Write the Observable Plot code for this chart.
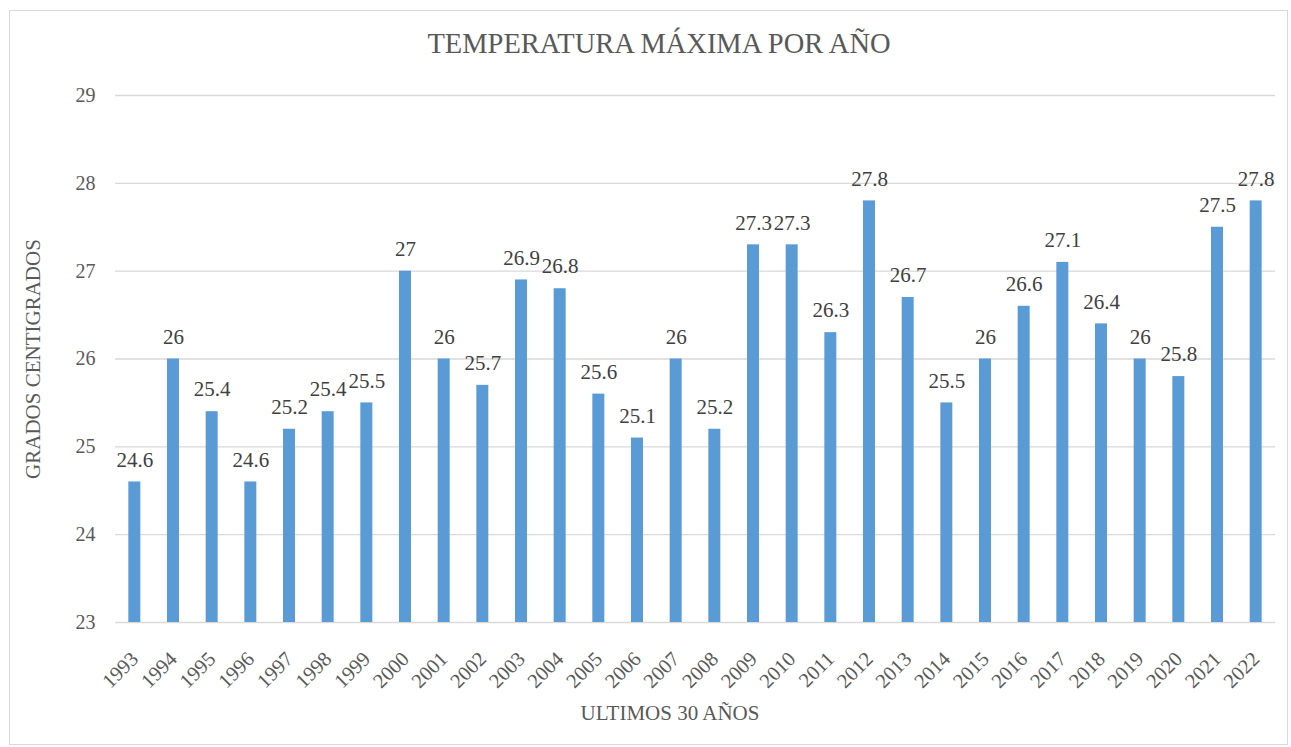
<!DOCTYPE html>
<html>
<head>
<meta charset="utf-8">
<script src="https://cdn.jsdelivr.net/npm/d3@7"></script>
<script src="https://cdn.jsdelivr.net/npm/@observablehq/plot@0.6"></script>
<style>
  html, body { margin: 0; padding: 0; background: #fff; }
  #wrap { position: relative; width: 1291px; height: 747px; font-family: "Liberation Serif", serif; }
  #border { position: absolute; left: 9px; top: 10px; width: 1279px; height: 735px; border: 1px solid #D9D9D9; box-sizing: border-box; pointer-events: none; }
  #title { position: absolute; left: 0; width: 1318px; top: 30px; text-align: center; font-size: 28.5px; line-height: 28px; color: #595959; white-space: nowrap; }
  #xtitle { position: absolute; left: 0; width: 1340px; top: 703px; text-align: center; font-size: 21px; line-height: 21px; color: #595959; white-space: nowrap; }
  #ytitle { position: absolute; left: 33px; top: 359px; transform: translate(-50%, -50%) rotate(-90deg); white-space: nowrap; font-size: 21px; line-height: 21px; color: #595959; }
  #chart { position: absolute; left: 0; top: 0; }
</style>
</head>
<body>
<div id="wrap">
  <div id="chart"></div>
  <div id="border"></div>
  <div id="title">TEMPERATURA MÁXIMA POR AÑO</div>
  <div id="xtitle">ULTIMOS 30 AÑOS</div>
  <div id="ytitle">GRADOS CENTIGRADOS</div>
</div>
<script>
const years = ["1993","1994","1995","1996","1997","1998","1999","2000","2001","2002","2003","2004","2005","2006","2007","2008","2009","2010","2011","2012","2013","2014","2015","2016","2017","2018","2019","2020","2021","2022"];
const values = [24.6,26,25.4,24.6,25.2,25.4,25.5,27,26,25.7,26.9,26.8,25.6,25.1,26,25.2,27.3,27.3,26.3,27.8,26.7,25.5,26,26.6,27.1,26.4,26,25.8,27.5,27.8];
const yTicks = [23,24,25,26,27,28,29];

const data = years.map((y, i) => ({year: y, value: values[i]}));

const chart = Plot.plot({
  width: 1291,
  height: 747,
  marginLeft: 115,
  marginRight: 16,
  marginTop: 95,
  marginBottom: 125,
  style: "font-family: 'Liberation Serif', serif; background: transparent; overflow: visible;",
  x: { domain: years, paddingInner: 0.69, paddingOuter: 0.345, round: false },
  y: { domain: [23, 29] },
  marks: [
    Plot.gridY(yTicks, { stroke: "#D9D9D9", strokeOpacity: 1, strokeWidth: 1.3 }),
    Plot.barY(data, { x: "year", y1: 23, y2: "value", fill: "#5B9BD5" }),
    Plot.axisY(yTicks, { tickSize: 0, tickPadding: 20, fontSize: 20, fill: "#595959", tickFormat: d => String(d), label: null }),
    Plot.axisX({ tickSize: 0, tickRotate: -45, tickPadding: 22, dx: 0, dy: 11, fontSize: 20.5, fill: "#595959", label: null }),
    Plot.text(data, { x: "year", y: "value", text: d => String(d.value), dy: -22, fontSize: 21, fill: "#404040" })
  ]
});
chart.querySelectorAll("text, g").forEach(el => {
  el.style.fontFamily = "'Liberation Serif', serif";
  if (el.hasAttribute("font-family")) el.setAttribute("font-family", "Liberation Serif");
});
document.getElementById("chart").appendChild(chart);
</script>
</body>
</html>
